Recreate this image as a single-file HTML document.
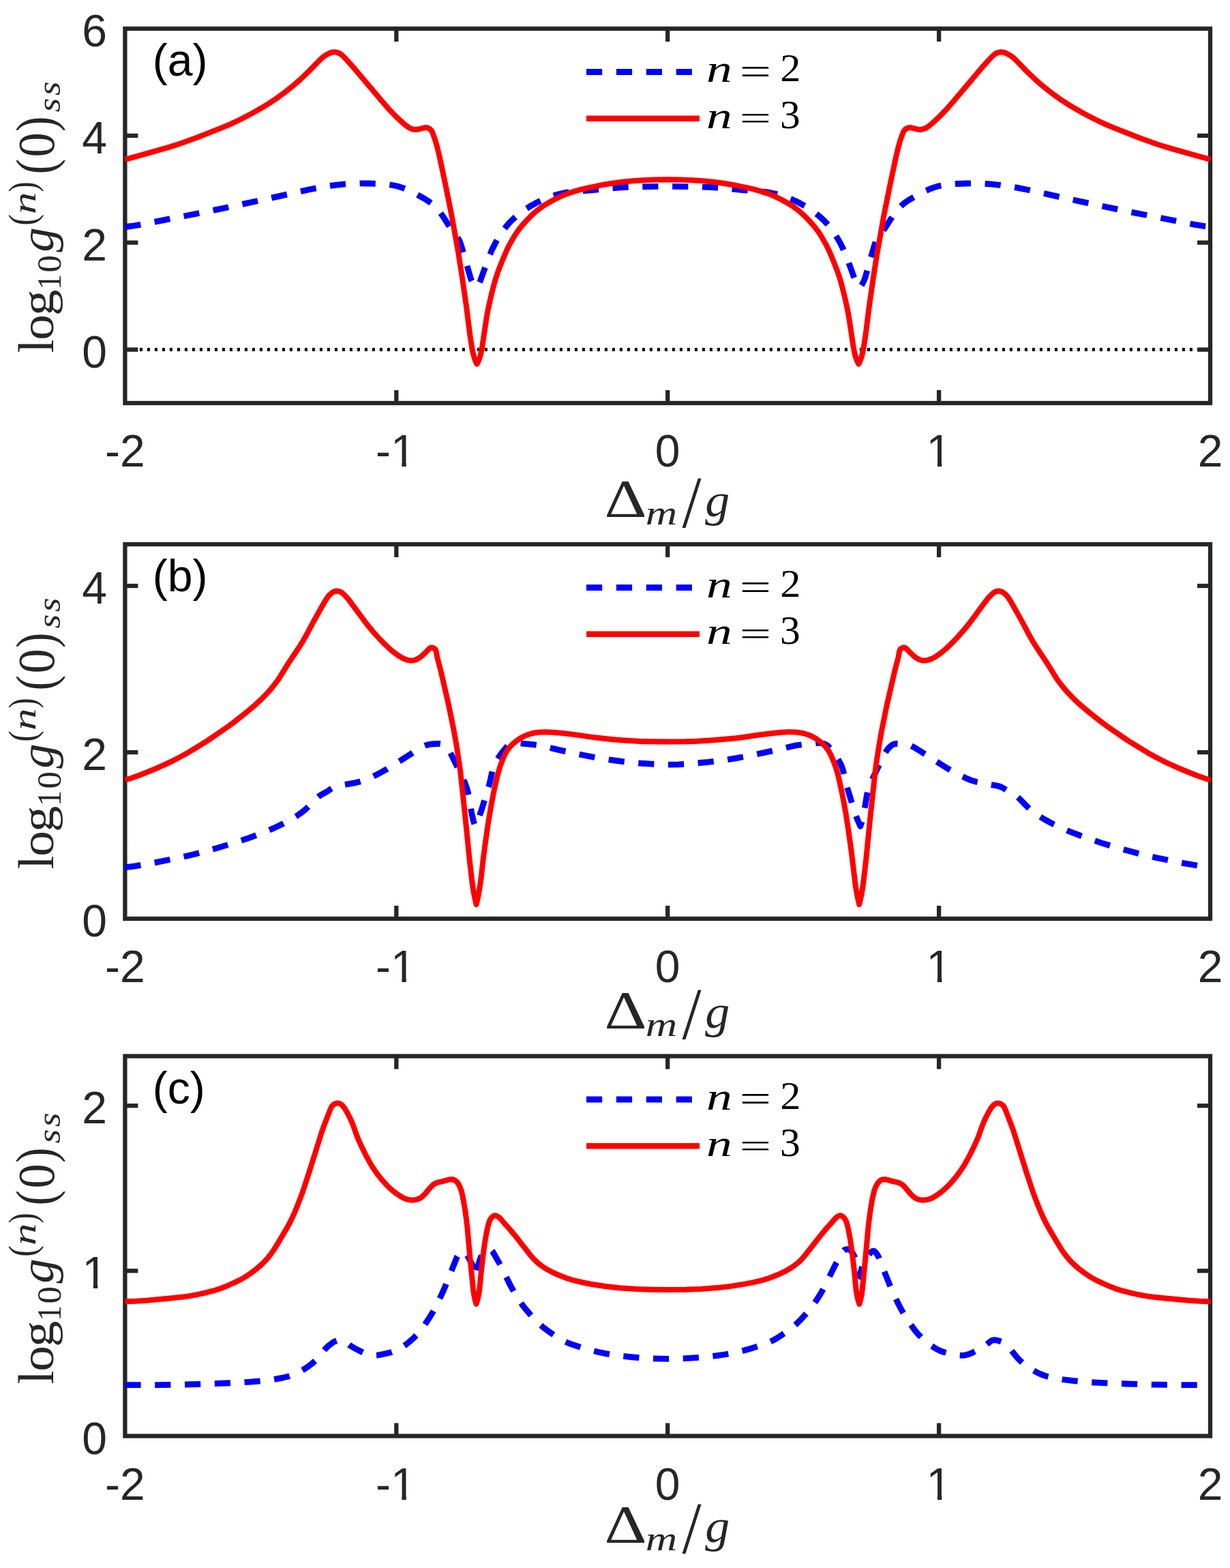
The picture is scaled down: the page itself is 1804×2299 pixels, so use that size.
<!DOCTYPE html><html><head><meta charset="utf-8"><title>log10 g(n)(0) vs detuning</title><style>html,body{margin:0;padding:0;background:#fff;overflow:hidden}svg{display:block}.tk{font-family:"Liberation Sans",Arial,sans-serif;font-size:66px;fill:#262626}</style></head><body>
<svg xmlns="http://www.w3.org/2000/svg" width="1804" height="2299" viewBox="0 0 1804 2299">
<rect x="0" y="0" width="1804" height="2299" fill="#fff"/>
<clipPath id="clipa"><rect x="179.4" y="38.0" width="1599.6" height="557.0"/></clipPath>
<line x1="204.9" y1="512.6" x2="1772.0" y2="512.6" stroke="#000" stroke-width="5" stroke-dasharray="4 7"/>
<rect x="183.4" y="42.0" width="1591.6" height="549.0" fill="none" stroke="#262626" stroke-width="6.3" stroke-linejoin="miter"/>
<line x1="581.3" y1="591.0" x2="581.3" y2="572.0" stroke="#262626" stroke-width="6.3"/>
<line x1="581.3" y1="42.0" x2="581.3" y2="61.0" stroke="#262626" stroke-width="6.3"/>
<line x1="979.2" y1="591.0" x2="979.2" y2="572.0" stroke="#262626" stroke-width="6.3"/>
<line x1="979.2" y1="42.0" x2="979.2" y2="61.0" stroke="#262626" stroke-width="6.3"/>
<line x1="1377.1" y1="591.0" x2="1377.1" y2="572.0" stroke="#262626" stroke-width="6.3"/>
<line x1="1377.1" y1="42.0" x2="1377.1" y2="61.0" stroke="#262626" stroke-width="6.3"/>
<line x1="183.4" y1="512.6" x2="202.4" y2="512.6" stroke="#262626" stroke-width="6.3"/>
<line x1="1775.0" y1="512.6" x2="1756.0" y2="512.6" stroke="#262626" stroke-width="6.3"/>
<line x1="183.4" y1="355.7" x2="202.4" y2="355.7" stroke="#262626" stroke-width="6.3"/>
<line x1="1775.0" y1="355.7" x2="1756.0" y2="355.7" stroke="#262626" stroke-width="6.3"/>
<line x1="183.4" y1="198.9" x2="202.4" y2="198.9" stroke="#262626" stroke-width="6.3"/>
<line x1="1775.0" y1="198.9" x2="1756.0" y2="198.9" stroke="#262626" stroke-width="6.3"/>
<path d="M183.4,332.5L193.3,331.5L207.6,329.1L300.9,310.8L338.6,303.0L390.4,291.9L449.5,278.7L466.1,275.4L480.9,272.9L492.3,271.3L503.8,270.1L515.7,269.3L527.7,268.9L541.2,269.0L556.7,269.5L567.2,270.3L575.6,271.5L583.8,273.3L591.9,275.9L600.2,279.4L610.0,284.3L623.1,291.6L630.2,296.2L633.4,298.6L636.0,300.8L641.5,306.6L645.9,312.0L649.1,316.4L659.7,332.8L664.3,339.3L670.6,347.7L672.5,350.6L673.9,353.2L675.4,356.9L676.8,361.2L690.2,407.8L691.8,411.9L693.8,415.9L695.7,418.8L698.0,421.5L701.5,417.3L703.1,414.8L704.3,412.1L716.2,379.2L719.4,371.3L722.4,364.4L725.8,357.7L729.7,350.7L733.6,344.3L737.5,338.5L742.0,332.6L746.8,326.9L752.1,321.6L757.7,316.6L763.9,311.6L770.9,306.7L778.0,302.2L785.9,297.8L792.1,294.7L798.1,292.0L804.6,289.4L811.2,287.1L817.4,285.2L823.7,283.7L830.0,282.4L836.5,281.4L845.9,280.5L869.8,278.6L897.7,275.9L913.7,274.7L939.6,273.8L979.1,273.3L1018.7,273.8L1045.1,274.7L1061.1,275.9L1089.0,278.6L1112.9,280.5L1122.3,281.4L1128.8,282.4L1135.1,283.7L1141.4,285.2L1147.6,287.1L1154.2,289.4L1160.7,292.0L1166.7,294.7L1172.9,297.8L1180.8,302.2L1187.9,306.7L1194.9,311.6L1201.1,316.6L1206.7,321.6L1212.0,326.9L1216.8,332.6L1221.3,338.5L1225.2,344.3L1229.1,350.7L1233.0,357.7L1236.4,364.4L1239.4,371.3L1242.6,379.2L1254.5,412.1L1255.7,414.8L1257.3,417.3L1260.8,421.5L1263.1,418.8L1265.0,415.9L1267.0,411.9L1268.6,407.8L1269.7,404.4L1282.0,361.2L1283.4,356.9L1284.9,353.2L1287.9,348.1L1297.7,334.9L1308.8,317.7L1314.7,309.7L1317.9,305.8L1320.3,303.3L1323.2,300.5L1326.2,297.9L1332.7,293.4L1342.7,287.7L1355.0,281.1L1365.0,276.6L1369.7,274.9L1374.0,273.6L1378.3,272.5L1383.2,271.5L1391.6,270.3L1402.1,269.5L1417.6,269.0L1431.1,268.9L1443.1,269.3L1455.0,270.1L1466.5,271.3L1477.9,272.9L1492.7,275.4L1509.3,278.7L1568.4,291.9L1620.2,303.0L1657.9,310.8L1751.2,329.1L1765.5,331.5L1775.4,332.5" fill="none" stroke="#0000ff" stroke-width="8.8" stroke-dasharray="23.2 20.6" stroke-linejoin="round" clip-path="url(#clipa)"/>
<path d="M183.4,233.9L201.7,228.9L245.1,216.6L254.6,213.7L265.1,210.3L290.0,201.2L326.3,186.9L338.7,181.7L351.8,175.5L370.0,166.0L387.4,156.1L402.5,146.4L415.5,137.1L428.1,127.2L440.6,116.4L453.6,103.9L469.2,87.8L474.0,83.5L476.4,81.7L479.9,79.7L483.0,78.1L485.7,77.0L488.1,76.5L491.1,76.3L493.5,76.6L495.9,77.3L498.5,78.5L501.3,80.6L504.6,83.6L518.4,98.8L560.0,148.1L569.8,159.4L580.9,171.0L592.3,181.5L597.0,185.2L600.3,187.4L603.4,188.9L606.3,189.6L609.2,189.9L613.2,189.6L620.9,187.6L623.3,187.2L625.3,187.1L627.2,187.5L629.5,188.5L631.4,190.0L633.0,191.9L634.4,194.5L638.4,205.8L641.4,216.4L644.4,228.6L653.2,270.1L662.9,318.2L672.4,371.9L677.9,407.0L684.1,450.0L689.3,491.2L691.8,507.5L693.3,515.9L695.3,523.6L697.1,528.8L699.5,533.7L701.7,529.2L703.0,526.0L704.4,521.7L705.6,516.9L707.4,507.1L712.9,470.5L714.9,458.6L717.1,447.8L720.4,433.2L724.2,418.2L727.4,407.1L730.6,397.7L737.2,380.9L742.7,368.0L747.3,358.6L753.2,348.2L758.3,340.2L764.0,332.6L771.6,324.0L779.6,315.7L786.7,309.4L794.2,303.7L803.1,298.1L814.0,292.0L822.5,287.8L829.9,284.7L839.8,281.4L850.8,278.2L859.1,276.2L885.5,270.7L897.9,268.7L912.7,266.7L927.7,265.2L942.6,264.2L960.6,263.6L979.1,263.3L997.7,263.6L1016.2,264.2L1031.1,265.2L1046.1,266.7L1060.9,268.7L1073.3,270.7L1099.7,276.2L1108.0,278.2L1119.0,281.4L1128.9,284.7L1136.3,287.8L1144.8,292.0L1155.7,298.1L1164.6,303.7L1172.1,309.4L1179.2,315.7L1187.2,324.0L1194.8,332.6L1200.5,340.2L1205.6,348.2L1211.5,358.6L1216.1,368.0L1221.6,380.9L1228.2,397.7L1231.4,407.1L1234.6,418.2L1238.4,433.2L1241.7,447.8L1243.9,458.6L1245.9,470.5L1251.4,507.1L1253.2,516.9L1254.4,521.7L1255.8,526.0L1257.1,529.2L1259.3,533.7L1261.7,528.8L1263.5,523.6L1265.5,515.9L1267.0,507.5L1269.5,491.2L1274.7,450.0L1280.9,407.0L1286.4,371.9L1295.9,318.2L1305.6,270.1L1314.4,228.6L1317.4,216.4L1320.5,205.4L1324.4,194.5L1325.8,191.9L1327.4,190.0L1329.3,188.5L1331.6,187.5L1333.5,187.1L1335.5,187.2L1337.9,187.6L1346.1,189.7L1349.6,189.9L1352.5,189.6L1355.8,188.7L1358.9,187.2L1362.2,184.9L1366.9,181.2L1378.2,170.6L1389.0,159.4L1398.8,148.1L1440.4,98.8L1454.2,83.6L1457.5,80.6L1460.3,78.5L1462.9,77.3L1465.3,76.6L1467.7,76.3L1470.7,76.5L1473.1,77.0L1475.8,78.1L1478.9,79.7L1482.4,81.7L1485.2,83.8L1489.6,87.8L1505.2,103.9L1518.2,116.4L1530.7,127.2L1543.3,137.1L1556.3,146.4L1571.4,156.1L1588.8,166.0L1607.0,175.5L1620.1,181.7L1632.5,186.9L1668.8,201.2L1693.7,210.3L1704.2,213.7L1713.7,216.6L1757.1,228.9L1775.4,233.9" fill="none" stroke="#ff0000" stroke-width="8.0" stroke-linejoin="round" clip-path="url(#clipa)"/>
<text x="154.06" y="684.30" class="tk">-2</text>
<text x="551.10" y="684.30" class="tk">-1</text>
<rect x="576.05" y="678.67" width="13.33" height="6.83" fill="#fff"/>
<rect x="595.81" y="678.67" width="12.91" height="6.83" fill="#fff"/>
<text x="960.85" y="684.30" class="tk">0</text>
<text x="1358.60" y="684.30" class="tk">1</text>
<rect x="1361.57" y="678.67" width="13.33" height="6.83" fill="#fff"/>
<rect x="1381.33" y="678.67" width="12.91" height="6.83" fill="#fff"/>
<text x="1756.65" y="684.30" class="tk">2</text>
<text x="120.29" y="538.77" class="tk">0</text>
<text x="120.29" y="381.91" class="tk">2</text>
<text x="120.29" y="225.06" class="tk">4</text>
<text x="120.29" y="68.20" class="tk">6</text>
<text x="223.8" y="111.2" class="tk" style="fill:#000">(a)</text>
<line x1="860" y1="105.5" x2="1026" y2="105.5" stroke="#0000ff" stroke-width="8.9" stroke-dasharray="23.2 20.7"/>
<line x1="860" y1="173.8" x2="1026" y2="173.8" stroke="#ff0000" stroke-width="8.4"/>
<text transform="matrix(0.7568,0,0,0.5603,1036.10,120.10)" font-family='"Liberation Serif",serif' font-size="100" font-style="italic" fill="#000">n</text>
<text transform="matrix(0.8209,0,0,0.5640,1084.71,123.68)" font-family='"Liberation Serif",serif' font-size="100" fill="#000">=</text>
<text transform="matrix(0.6037,0,0,0.5739,1144.15,119.00)" font-family='"Liberation Serif",serif' font-size="100" fill="#000">2</text>
<text transform="matrix(0.7568,0,0,0.5582,1036.10,188.10)" font-family='"Liberation Serif",serif' font-size="100" font-style="italic" fill="#000">n</text>
<text transform="matrix(0.8209,0,0,0.5120,1084.71,190.40)" font-family='"Liberation Serif",serif' font-size="100" fill="#000">=</text>
<text transform="matrix(0.5955,0,0,0.5820,1143.95,188.43)" font-family='"Liberation Serif",serif' font-size="100" fill="#000">3</text>
<text transform="matrix(0.9658,0,0,0.7862,886.52,756.70)" font-family='"Liberation Serif",serif' font-size="100" fill="#262626">Δ</text>
<text transform="matrix(0.6444,0,0,0.5072,946.87,768.70)" font-family='"Liberation Serif",serif' font-size="100" font-style="italic" fill="#262626">m</text>
<text transform="matrix(1.0114,0,0,1.0748,1000.50,773.25)" font-family='"Liberation Serif",serif' font-size="100" fill="#262626">/</text>
<text transform="matrix(0.7188,0,0,0.6832,1034.16,756.96)" font-family='"Liberation Serif",serif' font-size="100" font-style="italic" fill="#262626">g</text>
<text transform="matrix(0,-0.7191,0.7365,0,78.00,517.44)" font-family='"Liberation Serif",serif' font-size="100" fill="#262626">l</text>
<text transform="matrix(0,-0.7550,0.6965,0,77.82,498.68)" font-family='"Liberation Serif",serif' font-size="100" fill="#262626">o</text>
<text transform="matrix(0,-0.7671,0.6667,0,78.11,462.90)" font-family='"Liberation Serif",serif' font-size="100" fill="#262626">g</text>
<text transform="matrix(0,-0.4687,0.5090,0,88.90,425.02)" font-family='"Liberation Serif",serif' font-size="100" fill="#262626">1</text>
<text transform="matrix(0,-0.5096,0.5053,0,88.91,399.54)" font-family='"Liberation Serif",serif' font-size="100" fill="#262626">0</text>
<text transform="matrix(0,-0.7252,0.6949,0,77.71,369.74)" font-family='"Liberation Serif",serif' font-size="100" font-style="italic" fill="#262626">g</text>
<text transform="matrix(0,-0.4945,0.5658,0,51.86,330.87)" font-family='"Liberation Serif",serif' font-size="100" fill="#262626">(</text>
<text transform="matrix(0,-0.6503,0.4818,0,51.70,314.12)" font-family='"Liberation Serif",serif' font-size="100" font-style="italic" fill="#262626">n</text>
<text transform="matrix(0,-0.4517,0.5658,0,51.86,281.46)" font-family='"Liberation Serif",serif' font-size="100" fill="#262626">)</text>
<text transform="matrix(0,-0.6775,0.8095,0,78.87,255.58)" font-family='"Liberation Serif",serif' font-size="100" fill="#262626">(</text>
<text transform="matrix(0,-0.7244,0.7513,0,78.97,230.56)" font-family='"Liberation Serif",serif' font-size="100" fill="#262626">0</text>
<text transform="matrix(0,-0.6775,0.8095,0,78.87,192.98)" font-family='"Liberation Serif",serif' font-size="100" fill="#262626">)</text>
<text transform="matrix(0,-0.5336,0.4948,0,88.22,164.55)" font-family='"Liberation Serif",serif' font-size="100" font-style="italic" fill="#262626">s</text>
<text transform="matrix(0,-0.5336,0.4948,0,88.22,140.25)" font-family='"Liberation Serif",serif' font-size="100" font-style="italic" fill="#262626">s</text>
<clipPath id="clipb"><rect x="179.4" y="794.0" width="1599.6" height="557.0"/></clipPath>
<rect x="183.4" y="798.0" width="1591.6" height="549.0" fill="none" stroke="#262626" stroke-width="6.3" stroke-linejoin="miter"/>
<line x1="581.3" y1="1347.0" x2="581.3" y2="1328.0" stroke="#262626" stroke-width="6.3"/>
<line x1="581.3" y1="798.0" x2="581.3" y2="817.0" stroke="#262626" stroke-width="6.3"/>
<line x1="979.2" y1="1347.0" x2="979.2" y2="1328.0" stroke="#262626" stroke-width="6.3"/>
<line x1="979.2" y1="798.0" x2="979.2" y2="817.0" stroke="#262626" stroke-width="6.3"/>
<line x1="1377.1" y1="1347.0" x2="1377.1" y2="1328.0" stroke="#262626" stroke-width="6.3"/>
<line x1="1377.1" y1="798.0" x2="1377.1" y2="817.0" stroke="#262626" stroke-width="6.3"/>
<line x1="183.4" y1="1103.0" x2="202.4" y2="1103.0" stroke="#262626" stroke-width="6.3"/>
<line x1="1775.0" y1="1103.0" x2="1756.0" y2="1103.0" stroke="#262626" stroke-width="6.3"/>
<line x1="183.4" y1="859.0" x2="202.4" y2="859.0" stroke="#262626" stroke-width="6.3"/>
<line x1="1775.0" y1="859.0" x2="1756.0" y2="859.0" stroke="#262626" stroke-width="6.3"/>
<path d="M183.4,1271.5L190.4,1270.9L198.3,1269.8L222.9,1265.6L262.1,1257.7L275.3,1254.7L287.9,1251.7L315.9,1244.1L342.8,1236.1L366.4,1228.1L388.9,1219.6L401.8,1214.1L414.0,1208.3L425.8,1202.0L435.7,1196.0L442.6,1191.1L448.4,1186.4L454.1,1180.9L463.1,1171.5L467.2,1167.9L470.9,1165.4L479.2,1160.8L485.8,1156.4L488.3,1154.9L491.9,1153.3L496.7,1152.0L518.9,1148.1L527.1,1146.3L534.3,1144.1L541.7,1141.1L554.2,1135.0L567.8,1127.4L578.4,1120.9L607.1,1102.6L618.1,1095.8L622.1,1093.8L625.4,1092.5L628.7,1091.7L632.6,1091.0L644.1,1090.4L647.0,1090.8L649.3,1091.7L652.6,1093.9L656.1,1097.4L659.0,1101.4L662.0,1106.6L678.7,1140.7L681.9,1148.1L684.3,1154.6L686.1,1160.8L687.7,1167.6L691.4,1190.3L693.1,1198.6L694.7,1204.9L697.0,1211.5L701.9,1200.0L705.7,1189.2L716.8,1153.3L719.5,1142.7L721.3,1133.9L722.5,1129.1L724.1,1124.4L726.3,1119.3L729.8,1112.8L733.1,1107.8L736.0,1103.7L742.4,1096.0L744.1,1094.2L746.8,1092.1L749.9,1090.7L754.2,1089.6L758.2,1089.2L760.7,1089.4L771.1,1090.7L782.5,1091.7L792.4,1093.1L799.2,1094.6L819.1,1099.4L855.8,1107.3L875.0,1111.0L895.2,1114.2L916.0,1116.9L938.0,1119.0L961.4,1120.6L978.9,1121.1L994.9,1120.8L1015.4,1119.5L1038.3,1117.4L1057.6,1115.0L1079.9,1111.6L1100.1,1107.9L1138.7,1099.6L1160.1,1094.5L1167.9,1092.9L1176.8,1091.6L1187.7,1090.7L1199.6,1089.3L1202.6,1089.3L1206.5,1090.0L1209.4,1090.8L1211.6,1091.9L1213.7,1093.2L1215.8,1095.3L1223.1,1104.1L1226.6,1109.0L1229.7,1114.0L1233.0,1120.2L1234.9,1124.8L1236.3,1129.1L1237.4,1133.4L1239.3,1142.7L1241.8,1152.4L1252.9,1188.7L1256.9,1200.0L1261.8,1211.5L1264.1,1204.9L1265.7,1198.6L1267.4,1190.3L1271.1,1167.6L1272.7,1160.8L1274.5,1154.6L1276.9,1148.1L1280.4,1140.3L1292.8,1114.6L1297.0,1106.2L1300.1,1101.0L1302.7,1097.4L1306.2,1093.9L1309.5,1091.7L1311.8,1090.8L1314.7,1090.4L1326.2,1091.0L1330.6,1091.8L1333.4,1092.5L1336.7,1093.8L1340.7,1095.8L1351.7,1102.6L1380.4,1120.9L1391.0,1127.4L1404.6,1135.0L1417.1,1141.1L1424.5,1144.1L1431.7,1146.3L1439.9,1148.1L1462.1,1152.0L1466.9,1153.3L1470.5,1154.9L1473.0,1156.4L1479.6,1160.8L1487.9,1165.4L1491.6,1167.9L1495.7,1171.5L1504.7,1180.9L1510.4,1186.4L1516.2,1191.1L1523.1,1196.0L1533.0,1202.0L1544.8,1208.3L1557.0,1214.1L1569.9,1219.6L1592.4,1228.1L1616.0,1236.1L1642.9,1244.1L1670.9,1251.7L1683.5,1254.7L1696.7,1257.7L1735.9,1265.6L1760.5,1269.8L1768.4,1270.9L1775.4,1271.5" fill="none" stroke="#0000ff" stroke-width="8.8" stroke-dasharray="23.2 20.6" stroke-linejoin="round" clip-path="url(#clipb)"/>
<path d="M183.4,1143.8L193.0,1140.8L204.2,1136.8L216.8,1131.8L232.5,1125.2L243.9,1120.0L253.8,1115.3L264.4,1109.7L274.9,1103.9L287.8,1096.2L304.8,1085.6L334.5,1065.3L342.9,1059.0L359.0,1046.3L372.5,1035.2L383.5,1025.0L392.9,1015.3L401.3,1005.4L408.5,995.8L423.8,971.2L438.5,949.2L444.1,940.3L449.1,931.6L459.6,911.7L472.3,889.0L475.5,883.4L480.6,875.3L482.5,873.0L485.0,870.6L487.3,868.8L489.5,867.6L491.8,866.8L493.7,866.5L495.7,866.7L498.1,867.2L500.3,868.3L502.7,870.0L506.3,873.5L510.1,877.5L538.4,915.6L546.4,925.3L555.7,935.7L564.4,944.6L572.1,951.8L576.7,955.6L581.9,959.6L588.1,963.7L593.4,966.3L598.1,967.9L602.6,968.5L605.0,968.4L607.0,968.1L609.3,967.5L611.6,966.5L614.2,965.1L616.6,963.4L623.8,957.1L629.2,951.3L631.2,949.9L633.1,949.5L635.5,950.0L637.6,951.2L638.3,951.9L639.1,953.2L639.9,956.0L641.2,963.4L646.5,983.7L658.0,1033.5L665.2,1068.7L669.2,1090.9L673.7,1120.0L675.4,1132.9L682.9,1203.1L688.5,1259.3L692.0,1289.6L693.4,1300.5L695.1,1310.4L696.7,1318.2L698.6,1326.0L701.4,1313.8L703.9,1299.5L705.5,1288.1L708.8,1258.8L711.4,1239.0L716.0,1206.8L720.6,1179.7L724.8,1158.1L729.6,1137.1L733.2,1124.6L737.5,1112.9L739.9,1107.4L742.2,1103.0L744.6,1099.2L747.3,1095.7L751.7,1091.0L757.5,1086.3L762.4,1082.9L766.7,1080.4L770.7,1078.5L774.9,1076.9L779.6,1075.5L784.0,1074.5L788.9,1073.8L794.4,1073.4L799.8,1073.3L810.8,1073.7L825.3,1075.0L845.1,1077.4L874.3,1081.6L899.2,1084.2L912.2,1085.3L927.6,1086.3L940.1,1086.9L951.6,1087.2L979.1,1087.5L1005.7,1087.3L1022.2,1086.8L1042.1,1085.6L1060.6,1084.1L1079.5,1082.2L1091.4,1080.7L1115.1,1077.2L1134.0,1075.0L1146.0,1073.8L1155.5,1073.3L1161.4,1073.3L1166.4,1073.5L1171.4,1074.0L1175.8,1074.7L1179.7,1075.5L1184.4,1077.0L1189.0,1078.8L1193.0,1080.8L1196.4,1082.8L1199.7,1085.1L1206.7,1090.7L1210.8,1094.9L1214.5,1099.7L1216.3,1102.6L1218.2,1106.1L1221.8,1114.3L1225.2,1123.2L1228.1,1132.7L1231.0,1144.4L1234.5,1160.5L1237.6,1176.2L1240.6,1193.0L1244.3,1217.2L1248.5,1246.9L1254.7,1298.6L1257.3,1313.3L1260.2,1326.0L1262.1,1318.2L1263.7,1310.4L1265.4,1300.5L1266.8,1289.6L1270.3,1259.3L1275.9,1203.1L1283.4,1132.9L1285.1,1120.0L1289.6,1090.9L1293.6,1068.7L1300.8,1033.5L1312.3,983.7L1317.6,963.4L1318.9,956.0L1319.7,953.2L1320.5,951.9L1321.2,951.2L1323.3,950.0L1325.7,949.5L1327.6,949.9L1329.6,951.3L1335.0,957.1L1342.2,963.4L1344.6,965.1L1347.2,966.5L1349.5,967.5L1351.8,968.1L1353.8,968.4L1356.2,968.5L1360.7,967.9L1365.4,966.3L1371.2,963.5L1377.3,959.3L1382.5,955.3L1387.1,951.5L1394.7,944.3L1403.4,935.3L1412.4,925.3L1420.4,915.6L1427.9,905.6L1442.4,885.9L1449.1,877.1L1452.5,873.5L1456.1,870.0L1458.5,868.3L1460.7,867.2L1463.1,866.7L1465.1,866.5L1467.0,866.8L1469.3,867.6L1471.5,868.8L1473.8,870.6L1476.3,873.0L1478.5,875.7L1483.8,884.2L1497.5,908.6L1510.0,932.0L1514.7,940.3L1520.3,949.2L1535.0,971.2L1550.3,995.8L1557.5,1005.4L1565.9,1015.3L1575.3,1025.0L1586.3,1035.2L1599.8,1046.3L1615.9,1059.0L1624.3,1065.3L1654.0,1085.6L1671.0,1096.2L1683.9,1103.9L1694.4,1109.7L1705.0,1115.3L1714.9,1120.0L1726.3,1125.2L1742.0,1131.8L1754.6,1136.8L1765.8,1140.8L1775.4,1143.8" fill="none" stroke="#ff0000" stroke-width="8.0" stroke-linejoin="round" clip-path="url(#clipb)"/>
<text x="154.06" y="1440.30" class="tk">-2</text>
<text x="551.10" y="1440.30" class="tk">-1</text>
<rect x="576.05" y="1434.67" width="13.33" height="6.83" fill="#fff"/>
<rect x="595.81" y="1434.67" width="12.91" height="6.83" fill="#fff"/>
<text x="960.85" y="1440.30" class="tk">0</text>
<text x="1358.60" y="1440.30" class="tk">1</text>
<rect x="1361.57" y="1434.67" width="13.33" height="6.83" fill="#fff"/>
<rect x="1381.33" y="1434.67" width="12.91" height="6.83" fill="#fff"/>
<text x="1756.65" y="1440.30" class="tk">2</text>
<text x="120.29" y="1373.20" class="tk">0</text>
<text x="120.29" y="1129.20" class="tk">2</text>
<text x="120.29" y="885.20" class="tk">4</text>
<text x="223.8" y="867.2" class="tk" style="fill:#000">(b)</text>
<line x1="860" y1="861.5" x2="1026" y2="861.5" stroke="#0000ff" stroke-width="8.9" stroke-dasharray="23.2 20.7"/>
<line x1="860" y1="929.8" x2="1026" y2="929.8" stroke="#ff0000" stroke-width="8.4"/>
<text transform="matrix(0.7568,0,0,0.5603,1036.10,876.10)" font-family='"Liberation Serif",serif' font-size="100" font-style="italic" fill="#000">n</text>
<text transform="matrix(0.8209,0,0,0.5640,1084.71,879.68)" font-family='"Liberation Serif",serif' font-size="100" fill="#000">=</text>
<text transform="matrix(0.6037,0,0,0.5739,1144.15,875.00)" font-family='"Liberation Serif",serif' font-size="100" fill="#000">2</text>
<text transform="matrix(0.7568,0,0,0.5582,1036.10,944.10)" font-family='"Liberation Serif",serif' font-size="100" font-style="italic" fill="#000">n</text>
<text transform="matrix(0.8209,0,0,0.5120,1084.71,946.40)" font-family='"Liberation Serif",serif' font-size="100" fill="#000">=</text>
<text transform="matrix(0.5955,0,0,0.5820,1143.95,944.43)" font-family='"Liberation Serif",serif' font-size="100" fill="#000">3</text>
<text transform="matrix(0.9658,0,0,0.7862,886.52,1506.70)" font-family='"Liberation Serif",serif' font-size="100" fill="#262626">Δ</text>
<text transform="matrix(0.6444,0,0,0.5072,946.87,1518.70)" font-family='"Liberation Serif",serif' font-size="100" font-style="italic" fill="#262626">m</text>
<text transform="matrix(1.0114,0,0,1.0748,1000.50,1523.25)" font-family='"Liberation Serif",serif' font-size="100" fill="#262626">/</text>
<text transform="matrix(0.7188,0,0,0.6832,1034.16,1506.96)" font-family='"Liberation Serif",serif' font-size="100" font-style="italic" fill="#262626">g</text>
<text transform="matrix(0,-0.7191,0.7365,0,78.00,1274.44)" font-family='"Liberation Serif",serif' font-size="100" fill="#262626">l</text>
<text transform="matrix(0,-0.7550,0.6965,0,77.82,1255.68)" font-family='"Liberation Serif",serif' font-size="100" fill="#262626">o</text>
<text transform="matrix(0,-0.7671,0.6667,0,78.11,1219.90)" font-family='"Liberation Serif",serif' font-size="100" fill="#262626">g</text>
<text transform="matrix(0,-0.4687,0.5090,0,88.90,1182.02)" font-family='"Liberation Serif",serif' font-size="100" fill="#262626">1</text>
<text transform="matrix(0,-0.5096,0.5053,0,88.91,1156.54)" font-family='"Liberation Serif",serif' font-size="100" fill="#262626">0</text>
<text transform="matrix(0,-0.7252,0.6949,0,77.71,1126.74)" font-family='"Liberation Serif",serif' font-size="100" font-style="italic" fill="#262626">g</text>
<text transform="matrix(0,-0.4945,0.5658,0,51.86,1087.87)" font-family='"Liberation Serif",serif' font-size="100" fill="#262626">(</text>
<text transform="matrix(0,-0.6503,0.4818,0,51.70,1071.12)" font-family='"Liberation Serif",serif' font-size="100" font-style="italic" fill="#262626">n</text>
<text transform="matrix(0,-0.4517,0.5658,0,51.86,1038.46)" font-family='"Liberation Serif",serif' font-size="100" fill="#262626">)</text>
<text transform="matrix(0,-0.6775,0.8095,0,78.87,1012.58)" font-family='"Liberation Serif",serif' font-size="100" fill="#262626">(</text>
<text transform="matrix(0,-0.7244,0.7513,0,78.97,987.56)" font-family='"Liberation Serif",serif' font-size="100" fill="#262626">0</text>
<text transform="matrix(0,-0.6775,0.8095,0,78.87,949.98)" font-family='"Liberation Serif",serif' font-size="100" fill="#262626">)</text>
<text transform="matrix(0,-0.5336,0.4948,0,88.22,921.55)" font-family='"Liberation Serif",serif' font-size="100" font-style="italic" fill="#262626">s</text>
<text transform="matrix(0,-0.5336,0.4948,0,88.22,897.25)" font-family='"Liberation Serif",serif' font-size="100" font-style="italic" fill="#262626">s</text>
<clipPath id="clipc"><rect x="179.4" y="1544.5" width="1599.6" height="565.0"/></clipPath>
<rect x="183.4" y="1548.5" width="1591.6" height="557.0" fill="none" stroke="#262626" stroke-width="6.3" stroke-linejoin="miter"/>
<line x1="581.3" y1="2105.5" x2="581.3" y2="2086.5" stroke="#262626" stroke-width="6.3"/>
<line x1="581.3" y1="1548.5" x2="581.3" y2="1567.5" stroke="#262626" stroke-width="6.3"/>
<line x1="979.2" y1="2105.5" x2="979.2" y2="2086.5" stroke="#262626" stroke-width="6.3"/>
<line x1="979.2" y1="1548.5" x2="979.2" y2="1567.5" stroke="#262626" stroke-width="6.3"/>
<line x1="1377.1" y1="2105.5" x2="1377.1" y2="2086.5" stroke="#262626" stroke-width="6.3"/>
<line x1="1377.1" y1="1548.5" x2="1377.1" y2="1567.5" stroke="#262626" stroke-width="6.3"/>
<line x1="183.4" y1="1863.3" x2="202.4" y2="1863.3" stroke="#262626" stroke-width="6.3"/>
<line x1="1775.0" y1="1863.3" x2="1756.0" y2="1863.3" stroke="#262626" stroke-width="6.3"/>
<line x1="183.4" y1="1621.2" x2="202.4" y2="1621.2" stroke="#262626" stroke-width="6.3"/>
<line x1="1775.0" y1="1621.2" x2="1756.0" y2="1621.2" stroke="#262626" stroke-width="6.3"/>
<path d="M183.4,2030.6L230.9,2030.6L263.9,2030.2L306.4,2029.0L346.4,2027.4L367.3,2026.2L385.7,2024.4L401.1,2022.5L415.9,2019.8L424.6,2017.7L432.0,2015.0L436.6,2012.9L440.1,2011.0L447.8,2006.4L452.3,2003.3L456.7,2000.0L462.8,1994.9L467.2,1990.2L476.9,1978.1L480.0,1974.9L482.9,1972.3L486.1,1970.0L487.6,1968.6L490.3,1967.2L494.5,1965.7L498.9,1964.7L501.8,1964.8L503.2,1965.1L504.6,1965.7L507.0,1967.4L513.5,1972.9L521.7,1977.7L533.7,1983.8L537.8,1985.4L541.7,1986.5L544.6,1987.1L547.5,1987.3L554.0,1986.9L557.9,1986.3L565.3,1984.8L574.5,1982.5L580.5,1980.3L586.7,1977.1L594.2,1972.2L600.1,1967.6L607.2,1961.3L612.7,1955.6L617.8,1949.4L623.6,1941.3L629.2,1933.0L633.9,1925.3L637.8,1918.4L641.7,1910.8L648.7,1895.9L653.5,1884.9L670.6,1842.2L672.9,1838.3L675.5,1835.3L676.7,1834.5L677.6,1834.2L678.6,1834.2L679.9,1834.8L681.1,1835.7L682.8,1837.5L685.8,1841.5L692.7,1854.3L694.5,1858.3L695.4,1861.2L696.1,1864.1L697.0,1872.0L699.7,1860.8L703.0,1849.8L705.1,1843.7L707.4,1838.7L710.5,1834.1L711.5,1833.1L712.8,1832.3L714.1,1831.8L716.1,1831.6L718.1,1831.8L719.5,1832.2L721.1,1833.2L722.4,1834.7L732.1,1851.6L736.9,1860.9L748.6,1884.7L754.6,1895.7L760.6,1905.4L767.0,1914.4L773.3,1922.2L779.8,1929.8L785.2,1935.7L790.5,1940.9L795.8,1945.4L802.6,1950.6L811.2,1956.7L819.1,1961.9L824.3,1964.9L829.6,1967.5L835.6,1970.0L843.2,1972.6L855.1,1976.4L866.6,1979.7L876.8,1982.2L886.6,1984.3L896.4,1986.0L907.3,1987.6L918.3,1988.9L929.2,1990.0L941.2,1990.9L956.7,1991.8L968.6,1992.2L979.1,1992.4L989.7,1992.2L1001.6,1991.8L1017.6,1990.9L1029.6,1990.0L1040.5,1988.9L1051.5,1987.6L1062.4,1986.0L1072.2,1984.3L1082.0,1982.2L1092.2,1979.7L1103.7,1976.4L1115.6,1972.6L1123.2,1970.0L1129.2,1967.5L1134.5,1964.9L1139.7,1961.9L1147.6,1956.7L1156.2,1950.6L1163.0,1945.4L1168.3,1940.9L1173.6,1935.7L1179.0,1929.8L1185.5,1922.2L1191.8,1914.4L1198.2,1905.4L1204.2,1895.7L1210.2,1884.7L1221.9,1860.9L1226.7,1851.6L1236.4,1834.7L1237.7,1833.2L1239.3,1832.2L1240.7,1831.8L1242.7,1831.6L1244.7,1831.8L1246.0,1832.3L1247.3,1833.1L1248.3,1834.1L1251.4,1838.7L1253.7,1843.7L1256.0,1850.3L1259.1,1860.8L1261.8,1872.0L1262.7,1864.1L1263.4,1861.2L1264.3,1858.3L1266.1,1854.3L1273.0,1841.5L1276.0,1837.5L1277.7,1835.7L1278.9,1834.8L1280.2,1834.2L1281.2,1834.2L1282.1,1834.5L1283.3,1835.3L1284.7,1836.8L1286.2,1838.7L1288.4,1842.6L1293.3,1855.2L1305.3,1884.9L1310.1,1895.9L1317.1,1910.8L1321.0,1918.4L1324.9,1925.3L1329.6,1933.0L1335.2,1941.3L1341.0,1949.4L1346.1,1955.6L1352.0,1961.6L1358.7,1967.6L1365.0,1972.5L1372.5,1977.4L1378.3,1980.3L1384.3,1982.5L1393.5,1984.8L1404.8,1986.9L1411.3,1987.3L1414.2,1987.1L1417.1,1986.5L1421.0,1985.4L1425.1,1983.8L1437.1,1977.7L1445.3,1972.9L1451.8,1967.4L1454.2,1965.7L1455.6,1965.1L1457.0,1964.8L1459.9,1964.7L1464.8,1965.8L1469.0,1967.4L1471.6,1968.9L1473.1,1970.2L1475.9,1972.3L1478.8,1974.9L1481.9,1978.1L1491.6,1990.2L1496.0,1994.9L1502.1,2000.0L1506.9,2003.6L1511.0,2006.4L1518.7,2011.0L1522.2,2012.9L1526.8,2015.0L1534.2,2017.7L1542.9,2019.8L1557.7,2022.5L1573.1,2024.4L1591.5,2026.2L1612.4,2027.4L1652.4,2029.0L1694.9,2030.2L1727.9,2030.6L1775.4,2030.6" fill="none" stroke="#0000ff" stroke-width="8.8" stroke-dasharray="23.2 20.6" stroke-linejoin="round" clip-path="url(#clipc)"/>
<path d="M183.4,1908.3L199.4,1907.7L214.9,1906.7L252.2,1903.2L268.6,1901.5L278.5,1900.1L287.9,1898.4L299.6,1895.8L312.2,1892.7L321.3,1889.9L330.1,1886.6L342.5,1881.2L352.4,1876.4L360.6,1871.6L368.5,1866.3L376.0,1860.6L383.2,1854.4L388.2,1849.5L392.8,1844.3L397.2,1838.8L401.5,1832.7L406.5,1824.7L420.3,1801.4L424.6,1793.6L428.2,1786.4L431.7,1778.7L435.9,1768.5L440.4,1756.9L444.4,1746.1L452.1,1722.8L472.5,1657.9L476.1,1648.1L484.2,1627.1L486.1,1623.0L487.3,1621.4L488.7,1620.0L490.3,1618.9L492.0,1618.0L493.9,1617.5L495.4,1617.4L496.8,1617.6L498.7,1618.2L500.4,1619.2L501.9,1620.5L505.1,1624.3L509.2,1631.2L513.5,1639.6L516.0,1645.1L518.2,1650.6L523.7,1666.1L526.4,1672.6L530.4,1681.2L535.2,1691.1L539.9,1700.0L544.3,1707.8L548.6,1714.5L552.9,1720.7L557.5,1726.6L562.0,1731.9L566.7,1737.1L571.7,1742.0L576.5,1746.3L580.9,1749.6L585.8,1753.0L592.2,1756.7L594.5,1757.7L597.8,1758.7L600.7,1759.3L603.7,1759.6L607.1,1759.5L609.6,1759.1L612.4,1758.4L614.7,1757.4L617.2,1756.0L619.6,1754.2L623.5,1750.4L630.8,1741.6L633.5,1738.6L636.6,1736.1L639.6,1734.5L641.9,1733.7L648.3,1732.3L657.9,1729.7L660.4,1729.3L662.3,1729.2L664.8,1729.5L667.4,1730.7L669.7,1732.6L671.6,1734.9L673.2,1737.4L674.7,1740.6L675.9,1743.8L677.0,1747.2L679.7,1759.9L682.2,1774.6L683.9,1787.0L685.4,1799.9L689.8,1848.2L694.1,1891.0L695.0,1897.5L696.0,1902.9L697.0,1907.2L698.5,1912.0L701.0,1903.4L702.7,1894.5L703.7,1886.6L706.1,1861.7L709.2,1834.9L711.9,1816.6L715.0,1800.4L717.0,1792.7L719.0,1788.1L720.4,1786.0L722.1,1784.2L723.7,1783.0L725.5,1782.3L727.4,1782.3L729.2,1783.1L732.1,1785.0L734.3,1787.1L737.7,1791.3L746.8,1801.4L755.2,1811.3L778.3,1840.8L782.6,1845.7L786.8,1849.9L793.3,1855.3L800.3,1860.0L808.6,1864.6L818.1,1869.0L825.1,1871.8L832.1,1874.4L838.8,1876.5L846.0,1878.4L855.3,1880.5L866.6,1882.7L887.8,1886.0L907.2,1888.2L933.2,1890.0L954.2,1890.7L980.2,1891.0L1005.7,1890.7L1027.2,1889.9L1052.6,1888.1L1072.0,1885.9L1093.7,1882.4L1104.0,1880.4L1112.8,1878.4L1120.0,1876.5L1126.7,1874.4L1133.7,1871.8L1141.2,1868.8L1150.7,1864.4L1158.9,1859.8L1165.9,1855.0L1169.0,1852.5L1172.4,1849.6L1176.2,1845.7L1180.5,1840.8L1203.3,1811.7L1212.3,1800.9L1221.0,1791.3L1224.2,1787.4L1226.3,1785.3L1228.7,1783.6L1230.5,1782.6L1232.4,1782.2L1234.2,1782.6L1235.9,1783.6L1238.1,1785.7L1239.5,1787.7L1240.7,1789.9L1241.8,1792.7L1243.8,1800.4L1246.9,1816.6L1249.6,1834.9L1252.8,1862.2L1255.1,1886.6L1256.1,1894.5L1257.8,1903.4L1260.3,1912.0L1261.8,1907.2L1262.8,1902.9L1263.8,1897.5L1264.7,1891.0L1269.0,1848.2L1273.4,1799.9L1274.9,1787.0L1276.6,1774.6L1279.1,1759.4L1282.0,1746.7L1283.0,1743.4L1284.3,1740.1L1285.9,1737.0L1287.2,1734.9L1289.1,1732.6L1291.4,1730.7L1294.0,1729.5L1296.5,1729.2L1298.4,1729.3L1300.9,1729.7L1310.5,1732.3L1316.9,1733.7L1319.2,1734.5L1322.2,1736.1L1325.3,1738.6L1328.0,1741.6L1335.3,1750.4L1339.2,1754.2L1341.6,1756.0L1344.1,1757.4L1346.4,1758.4L1349.2,1759.1L1351.7,1759.5L1355.1,1759.6L1358.1,1759.3L1361.0,1758.7L1364.3,1757.7L1366.6,1756.7L1373.1,1753.0L1378.3,1749.3L1382.6,1745.9L1387.5,1741.6L1392.1,1737.1L1396.8,1731.9L1401.3,1726.6L1405.9,1720.7L1410.2,1714.5L1414.5,1707.8L1418.9,1700.0L1423.6,1691.1L1428.2,1681.7L1432.6,1672.1L1435.1,1666.1L1440.8,1650.2L1442.8,1645.1L1445.5,1639.2L1449.9,1630.8L1453.7,1624.3L1456.9,1620.5L1458.4,1619.2L1460.1,1618.2L1462.0,1617.6L1463.4,1617.4L1464.9,1617.5L1466.8,1618.0L1468.5,1618.9L1470.1,1620.0L1471.5,1621.4L1472.7,1623.0L1474.6,1627.1L1482.7,1648.1L1486.3,1657.9L1506.7,1722.8L1514.4,1746.1L1518.4,1756.9L1522.9,1768.5L1527.1,1778.7L1530.6,1786.4L1534.2,1793.6L1538.5,1801.4L1552.3,1824.7L1557.3,1832.7L1561.6,1838.8L1566.0,1844.3L1570.6,1849.5L1575.6,1854.4L1582.8,1860.6L1590.3,1866.3L1598.2,1871.6L1606.4,1876.4L1616.3,1881.2L1628.7,1886.6L1637.5,1889.9L1646.6,1892.7L1659.2,1895.8L1670.9,1898.4L1680.3,1900.1L1690.2,1901.5L1706.6,1903.2L1743.9,1906.7L1759.4,1907.7L1775.4,1908.3" fill="none" stroke="#ff0000" stroke-width="8.0" stroke-linejoin="round" clip-path="url(#clipc)"/>
<text x="154.06" y="2198.80" class="tk">-2</text>
<text x="551.10" y="2198.80" class="tk">-1</text>
<rect x="576.05" y="2193.17" width="13.33" height="6.83" fill="#fff"/>
<rect x="595.81" y="2193.17" width="12.91" height="6.83" fill="#fff"/>
<text x="960.85" y="2198.80" class="tk">0</text>
<text x="1358.60" y="2198.80" class="tk">1</text>
<rect x="1361.57" y="2193.17" width="13.33" height="6.83" fill="#fff"/>
<rect x="1381.33" y="2193.17" width="12.91" height="6.83" fill="#fff"/>
<text x="1756.65" y="2198.80" class="tk">2</text>
<text x="120.29" y="2131.70" class="tk">0</text>
<text x="120.57" y="1888.93" class="tk">1</text>
<rect x="123.54" y="1883.30" width="13.33" height="6.83" fill="#fff"/>
<rect x="143.30" y="1883.30" width="12.91" height="6.83" fill="#fff"/>
<text x="120.29" y="1647.35" class="tk">2</text>
<text x="223.8" y="1617.7" class="tk" style="fill:#000">(c)</text>
<line x1="860" y1="1612.0" x2="1026" y2="1612.0" stroke="#0000ff" stroke-width="8.9" stroke-dasharray="23.2 20.7"/>
<line x1="860" y1="1680.3" x2="1026" y2="1680.3" stroke="#ff0000" stroke-width="8.4"/>
<text transform="matrix(0.7568,0,0,0.5603,1036.10,1626.60)" font-family='"Liberation Serif",serif' font-size="100" font-style="italic" fill="#000">n</text>
<text transform="matrix(0.8209,0,0,0.5640,1084.71,1630.18)" font-family='"Liberation Serif",serif' font-size="100" fill="#000">=</text>
<text transform="matrix(0.6037,0,0,0.5739,1144.15,1625.50)" font-family='"Liberation Serif",serif' font-size="100" fill="#000">2</text>
<text transform="matrix(0.7568,0,0,0.5582,1036.10,1694.60)" font-family='"Liberation Serif",serif' font-size="100" font-style="italic" fill="#000">n</text>
<text transform="matrix(0.8209,0,0,0.5120,1084.71,1696.90)" font-family='"Liberation Serif",serif' font-size="100" fill="#000">=</text>
<text transform="matrix(0.5955,0,0,0.5820,1143.95,1694.93)" font-family='"Liberation Serif",serif' font-size="100" fill="#000">3</text>
<text transform="matrix(0.9658,0,0,0.7862,886.52,2260.90)" font-family='"Liberation Serif",serif' font-size="100" fill="#262626">Δ</text>
<text transform="matrix(0.6444,0,0,0.5072,946.87,2272.90)" font-family='"Liberation Serif",serif' font-size="100" font-style="italic" fill="#262626">m</text>
<text transform="matrix(1.0114,0,0,1.0748,1000.50,2277.45)" font-family='"Liberation Serif",serif' font-size="100" fill="#262626">/</text>
<text transform="matrix(0.7188,0,0,0.6832,1034.16,2261.16)" font-family='"Liberation Serif",serif' font-size="100" font-style="italic" fill="#262626">g</text>
<text transform="matrix(0,-0.7191,0.7365,0,78.00,2029.44)" font-family='"Liberation Serif",serif' font-size="100" fill="#262626">l</text>
<text transform="matrix(0,-0.7550,0.6965,0,77.82,2010.68)" font-family='"Liberation Serif",serif' font-size="100" fill="#262626">o</text>
<text transform="matrix(0,-0.7671,0.6667,0,78.11,1974.90)" font-family='"Liberation Serif",serif' font-size="100" fill="#262626">g</text>
<text transform="matrix(0,-0.4687,0.5090,0,88.90,1937.02)" font-family='"Liberation Serif",serif' font-size="100" fill="#262626">1</text>
<text transform="matrix(0,-0.5096,0.5053,0,88.91,1911.54)" font-family='"Liberation Serif",serif' font-size="100" fill="#262626">0</text>
<text transform="matrix(0,-0.7252,0.6949,0,77.71,1881.74)" font-family='"Liberation Serif",serif' font-size="100" font-style="italic" fill="#262626">g</text>
<text transform="matrix(0,-0.4945,0.5658,0,51.86,1842.87)" font-family='"Liberation Serif",serif' font-size="100" fill="#262626">(</text>
<text transform="matrix(0,-0.6503,0.4818,0,51.70,1826.12)" font-family='"Liberation Serif",serif' font-size="100" font-style="italic" fill="#262626">n</text>
<text transform="matrix(0,-0.4517,0.5658,0,51.86,1793.46)" font-family='"Liberation Serif",serif' font-size="100" fill="#262626">)</text>
<text transform="matrix(0,-0.6775,0.8095,0,78.87,1767.58)" font-family='"Liberation Serif",serif' font-size="100" fill="#262626">(</text>
<text transform="matrix(0,-0.7244,0.7513,0,78.97,1742.56)" font-family='"Liberation Serif",serif' font-size="100" fill="#262626">0</text>
<text transform="matrix(0,-0.6775,0.8095,0,78.87,1704.98)" font-family='"Liberation Serif",serif' font-size="100" fill="#262626">)</text>
<text transform="matrix(0,-0.5336,0.4948,0,88.22,1676.55)" font-family='"Liberation Serif",serif' font-size="100" font-style="italic" fill="#262626">s</text>
<text transform="matrix(0,-0.5336,0.4948,0,88.22,1652.25)" font-family='"Liberation Serif",serif' font-size="100" font-style="italic" fill="#262626">s</text>
</svg></body></html>
